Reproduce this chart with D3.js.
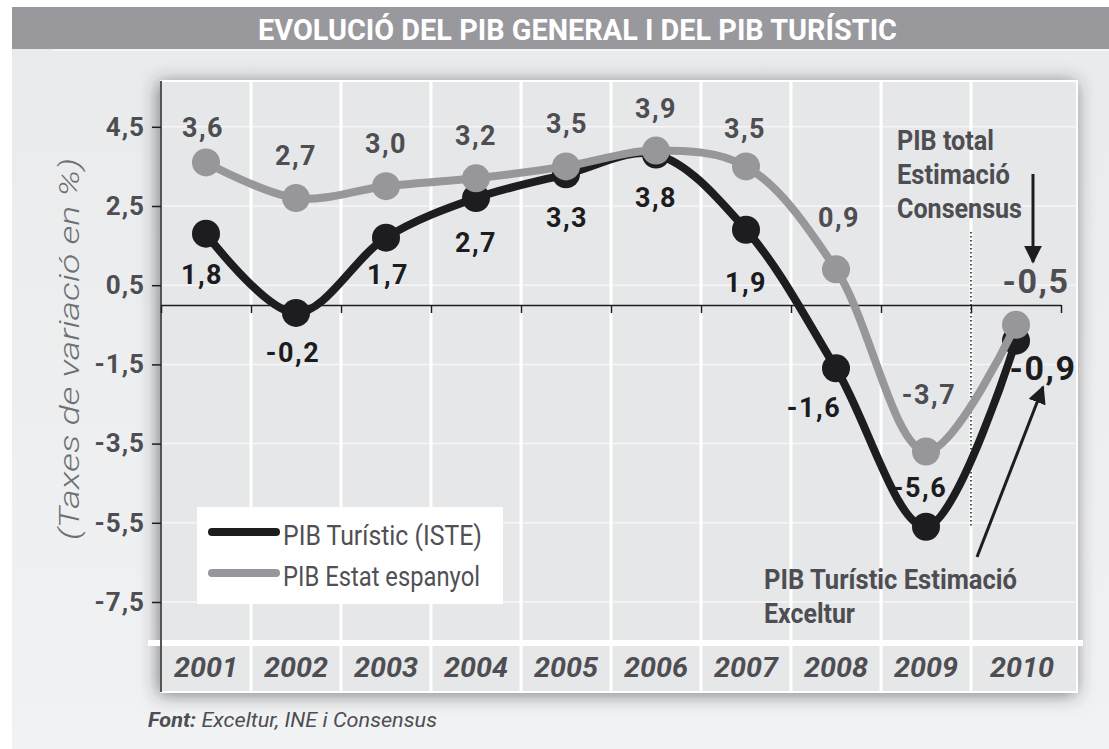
<!DOCTYPE html>
<html>
<head>
<meta charset="utf-8">
<script src="https://cdn.jsdelivr.net/npm/d3@7"></script>
<style>
	body { margin: 0; background: #fff; }
	svg { display: block; }
	text { font-family: Roboto, "Liberation Sans", sans-serif; }
</style>
</head>
<body>
<svg width="1109" height="749"></svg>
<script>
// data
const years = ['2001', '2002', '2003', '2004', '2005', '2006', '2007', '2008', '2009', '2010']
const pibTuristic = [1.8, -0.2, 1.7, 2.7, 3.3, 3.8, 1.9, -1.6, -5.6, -0.9]
const pibEstat = [3.6, 2.7, 3.0, 3.2, 3.5, 3.9, 3.5, 0.9, -3.7, -0.5]
const yTicks = [4.5, 2.5, 0.5, -1.5, -3.5, -5.5, -7.5]
const seriesNames = ['PIB Turístic (ISTE)', 'PIB Estat espanyol']

// label placement (dx, dy from the point)
const offTuristic = [[-4, 50], [-3, 49], [2, 46], [0, 54], [1, 53], [0, 52], [0, 62], [-22, 49], [-6, -30], [27, 39]]
const offEstat = [[-3, -25], [0, -33], [0, -33], [0, -33], [1, -33], [0, -33], [-1, -28], [3, -42], [3, -48], [20, -32]]

const ink = '#1d1d1f'
const grey = '#97979b'
const textGrey = '#4d4d52'

const locale = d3.formatLocale({ decimal: ',', thousands: '.', grouping: [3], currency: ['', ' €'], minus: '-' })
const fmt = locale.format('.1f')

// squeeze a text to a given width (the original uses a condensed face)
const fit = (sel, w) => sel.attr('textLength', w).attr('lengthAdjust', 'spacingAndGlyphs')

const svg = d3.select('svg')
const defs = svg.append('defs')

const shadow = defs.append('filter').attr('id', 'shadow')
	.attr('x', '-10%').attr('y', '-10%').attr('width', '120%').attr('height', '120%')
shadow.append('feDropShadow')
	.attr('dx', -2).attr('dy', 2)
	.attr('stdDeviation', 9)
	.attr('flood-color', '#333')
	.attr('flood-opacity', 0.6)

const bg = defs.append('linearGradient').attr('id', 'bg').attr('x1', 0).attr('x2', 0).attr('y1', 0).attr('y2', 1)
bg.append('stop').attr('offset', 0).attr('stop-color', '#eaebed')
bg.append('stop').attr('offset', 1).attr('stop-color', '#f1f2f4')

defs.append('marker')
	.attr('id', 'arrow')
	.attr('viewBox', '0 0 10 10')
	.attr('refX', 9).attr('refY', 5)
	.attr('markerWidth', 6).attr('markerHeight', 6)
	.attr('markerUnits', 'strokeWidth')
	.attr('orient', 'auto')
	.append('path')
	.attr('d', 'M0,0 L10,5 L0,10 Z')
	.attr('fill', ink)

// background + title bar
svg.append('rect').attr('x', 12).attr('y', 49).attr('width', 1097).attr('height', 700).attr('fill', 'url(#bg)')
svg.append('rect').attr('x', 12).attr('y', 7).attr('width', 1097).attr('height', 42).attr('fill', '#99989d')
svg.append('line').attr('x1', 53).attr('x2', 1109).attr('y1', 50).attr('y2', 50).attr('stroke', '#fff').attr('stroke-width', 1)
svg.append('text')
	.attr('x', 258).attr('y', 40)
	.attr('fill', '#fff')
	.attr('font-size', 30)
	.attr('font-weight', 'bold')
	.text('EVOLUCIÓ DEL PIB GENERAL I DEL PIB TURÍSTIC')
	.call(fit, 639)

// scales
const pLeft = 161, pRight = 1077, pTop = 81, pBottom = 692
const x = d3.scaleBand().domain(years).range([161, 1061])
const cx = (d) => x(d) + x.bandwidth() / 2
const xEdge = d3.scaleLinear().domain([0, years.length]).range([161, 1061])
const y = d3.scaleLinear().domain([-7.5, 4.5]).range([602, 126.8])

// panel
svg.append('rect')
	.attr('x', pLeft).attr('y', pTop)
	.attr('width', pRight - pLeft).attr('height', pBottom - pTop)
	.attr('fill', '#e6e7e9')
	.attr('stroke', '#fff').attr('stroke-width', 2)
	.attr('filter', 'url(#shadow)')

const grid = svg.append('g')
grid.selectAll('.hgrid')
	.data(yTicks)
	.enter()
	.append('line')
	.attr('x1', pLeft).attr('x2', pRight)
	.attr('y1', (d) => y(d)).attr('y2', (d) => y(d))
	.attr('stroke', '#f6f6f7').attr('stroke-width', 1.5)

grid.selectAll('.vgrid')
	.data(years.slice(1))
	.enter()
	.append('line')
	.attr('x1', (d) => x(d)).attr('x2', (d) => x(d))
	.attr('y1', pTop).attr('y2', pBottom)
	.attr('stroke', '#fff').attr('stroke-width', 3)

// year row
svg.append('line')
	.attr('x1', 148).attr('x2', 1083)
	.attr('y1', 643).attr('y2', 643)
	.attr('stroke', '#fff').attr('stroke-width', 6)

svg.append('g').selectAll('text')
	.data(years)
	.enter()
	.append('text')
	.attr('x', (d, i) => i === years.length - 1 ? cx(d) + 6 : cx(d))
	.attr('y', 677)
	.attr('text-anchor', 'middle')
	.attr('font-size', 27)
	.attr('font-weight', 'bold')
	.attr('font-style', 'italic')
	.attr('fill', textGrey)
	.text((d) => d)
	.call(fit, 64)

// y axis
svg.append('line')
	.attr('x1', pLeft).attr('x2', pLeft)
	.attr('y1', pTop).attr('y2', pBottom)
	.attr('stroke', ink).attr('stroke-width', 1.5)

const yAxis = svg.append('g')
	.attr('transform', `translate(${pLeft},0)`)
	.call(d3.axisLeft(y).tickValues(yTicks).tickSize(9).tickPadding(7).tickFormat(fmt))
yAxis.attr('font-family', null).attr('font-size', null)
yAxis.select('.domain').remove()
yAxis.selectAll('.tick line').attr('stroke', ink).attr('stroke-width', 1.5)
yAxis.selectAll('.tick text')
	.attr('font-size', 26)
	.attr('font-weight', 'bold')
	.attr('letter-spacing', 1)
	.attr('fill', textGrey)

svg.append('text')
	.attr('transform', 'translate(79,349) rotate(-90)')
	.attr('text-anchor', 'middle')
	.attr('font-size', 27)
	.attr('font-style', 'italic')
	.attr('font-weight', 300)
	.attr('fill', '#707074')
	.text('(Taxes de variació en %)')
	.call(fit, 382)

// zero axis
const zeroAxis = svg.append('g')
	.attr('transform', `translate(0,${y(0)})`)
	.call(d3.axisBottom(xEdge).ticks(years.length).tickSize(8).tickSizeOuter(0).tickFormat(''))
zeroAxis.select('.domain').attr('stroke', ink).attr('stroke-width', 1.5)
zeroAxis.selectAll('.tick line').attr('stroke', ink).attr('stroke-width', 1.5)

// estimate divider
svg.append('line')
	.attr('x1', x('2010')).attr('x2', x('2010'))
	.attr('y1', 232).attr('y2', 527)
	.attr('stroke', ink).attr('stroke-width', 1.5)
	.attr('stroke-dasharray', '1.5,2.5')

// series
const line = d3.line()
	.x((d, i) => cx(years[i]))
	.y((d) => y(d))
	.curve(d3.curveCatmullRom.alpha(0.5))

const series = [
	{ values: pibTuristic, color: ink, labelColor: '#1c1c1e', off: offTuristic },
	{ values: pibEstat, color: grey, labelColor: textGrey, off: offEstat }
]

series.forEach((s) => {
	const g = svg.append('g')
	g.append('path')
		.attr('d', line(s.values))
		.attr('fill', 'none')
		.attr('stroke', s.color)
		.attr('stroke-width', 8)
		.attr('stroke-linejoin', 'round')
	g.selectAll('circle')
		.data(s.values)
		.enter()
		.append('circle')
		.attr('cx', (d, i) => cx(years[i]))
		.attr('cy', (d) => y(d))
		.attr('r', 14)
		.attr('fill', s.color)
})

series.forEach((s) => {
	svg.append('g').selectAll('text')
		.data(s.values)
		.enter()
		.append('text')
		.attr('x', (d, i) => cx(years[i]) + s.off[i][0])
		.attr('y', (d, i) => y(d) + s.off[i][1])
		.attr('text-anchor', 'middle')
		.attr('font-size', (d, i) => i === years.length - 1 ? 34 : 27)
		.attr('font-weight', 'bold')
		.attr('letter-spacing', 1.5)
		.attr('fill', s.labelColor)
		.text((d) => fmt(d))
})

// legend
const legend = svg.append('g')
legend.append('rect')
	.attr('x', 197).attr('y', 507)
	.attr('width', 306).attr('height', 97)
	.attr('fill', '#fff')
series.forEach((s, i) => {
	legend.append('line')
		.attr('x1', 212).attr('x2', 276)
		.attr('y1', 532 + i * 41).attr('y2', 532 + i * 41)
		.attr('stroke', s.color).attr('stroke-width', 8)
		.attr('stroke-linecap', 'round')
	legend.append('text')
		.attr('x', 283).attr('y', 545 + i * 41)
		.attr('font-size', 27)
		.attr('fill', '#505055')
		.text(seriesNames[i])
		.call(fit, i === 0 ? 199 : 197)
})

// annotations
const note1 = [['PIB total', 97], ['Estimació', 113], ['Consensus', 125]]
note1.forEach(([t, w], i) => {
	svg.append('text')
		.attr('x', 897).attr('y', 150 + i * 34)
		.attr('font-size', 28).attr('font-weight', 'bold')
		.attr('fill', textGrey)
		.text(t)
		.call(fit, w)
})

svg.append('line')
	.attr('x1', 1033).attr('x2', 1033)
	.attr('y1', 174).attr('y2', 262)
	.attr('stroke', ink).attr('stroke-width', 3)
	.attr('marker-end', 'url(#arrow)')

const note2 = [['PIB Turístic Estimació', 253], ['Exceltur', 91]]
note2.forEach(([t, w], i) => {
	svg.append('text')
		.attr('x', 764).attr('y', 589 + i * 34)
		.attr('font-size', 28).attr('font-weight', 'bold')
		.attr('fill', textGrey)
		.text(t)
		.call(fit, w)
})

svg.append('line')
	.attr('x1', 977).attr('y1', 557)
	.attr('x2', 1043).attr('y2', 387)
	.attr('stroke', ink).attr('stroke-width', 3)
	.attr('marker-end', 'url(#arrow)')

// source
const source = svg.append('text')
	.attr('x', 148).attr('y', 727)
	.attr('font-size', 21).attr('font-style', 'italic')
	.attr('fill', textGrey)
source.append('tspan').attr('font-weight', 'bold').text('Font:')
source.append('tspan').text(' Exceltur, INE i Consensus')
source.call(fit, 289)
</script>
</body>
</html>
